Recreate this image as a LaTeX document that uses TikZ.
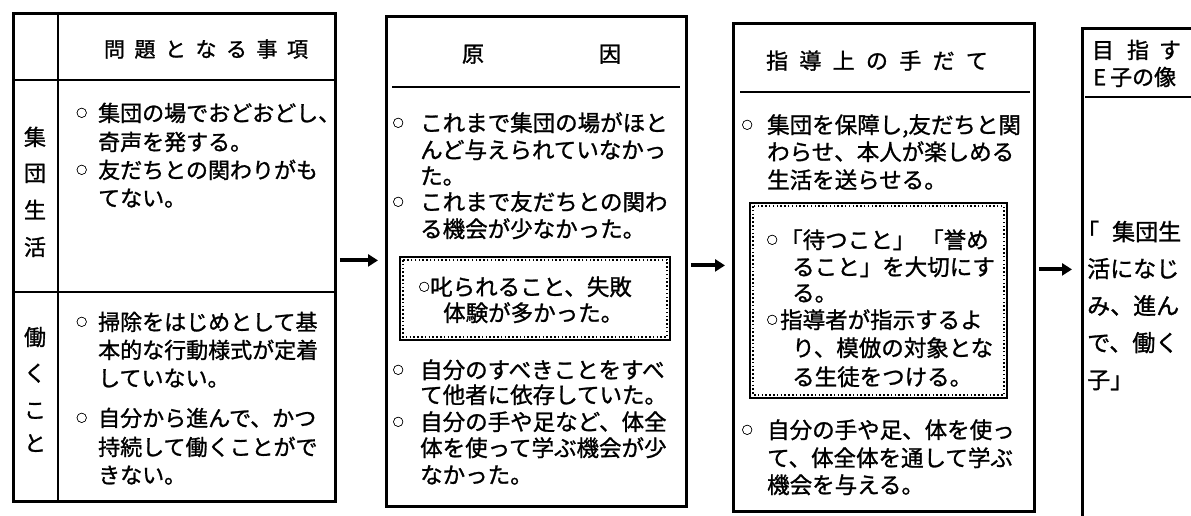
\documentclass[tikz,border=0pt]{standalone}
\usepackage{fontspec}
\setmainfont{Noto Sans CJK JP}[FakeBold=1.2]
\usetikzlibrary{arrows.meta}
\tikzset{
  frame/.style={draw, line width=2.8pt, inner sep=0pt, anchor=north west},
  rule/.style={line width=1.6pt},
  dotbox/.style={line width=1.5pt, dash pattern=on 1.5pt off 2.3pt},
  thinbox/.style={line width=1.1pt},
  arr/.style={line width=4pt, -{Triangle[length=10pt,width=12pt]}},
  txt/.style={inner sep=0pt, anchor=base west, font=\fontsize{22.5}{27}\selectfont},
  txtA/.style={txt, font=\fontsize{22}{27}\selectfont},
  txtB/.style={txt, font=\fontsize{23}{27}\selectfont},
  chr/.style={inner sep=0pt, anchor=base, font=\fontsize{22}{27}\selectfont},
}
\newcommand\bul[1]{\makebox[#1][l]{\raisebox{4.3pt}{\fontsize{11}{11}\selectfont ○}}}
\newcommand\tline[5][txt]{\node[#1] (#2) at (#3,{#4+8.3}) {#5};}
\begin{document}
\begin{tikzpicture}[x=1pt,y=-1pt]
\useasboundingbox (0,0) rectangle (1191,516);
\fill[white] (0,0) rectangle (1191,516);
\clip (0,0) rectangle (1191,516);

% frames
\node[frame, minimum width=322pt, minimum height=488pt] (b1) at (12,12) {};
\node[frame, minimum width=300pt, minimum height=490pt] (b2) at (385,15) {};
\node[frame, minimum width=301pt, minimum height=488pt] (b3) at (732,22) {};
\node[frame, minimum width=150pt, minimum height=500pt] (b4) at (1081,27) {};

% rules
\draw[rule] (12,80) -- (334,80);
\draw[rule] (12,292) -- (334,292);
\draw[rule] (58,12) -- (58,500);
\draw[rule] (392,87) -- (680,87);
\draw[rule] (740,92) -- (1030,92);
\draw[rule] (1085,97) -- (1191,97);

% dotted boxes
\draw[thinbox] (400,257) rectangle (670,340);
\draw[dotbox] (403,260) rectangle (667,337);
\draw[thinbox] (750,203) rectangle (1007,398);
\draw[dotbox] (753,206) rectangle (1004,395);

% arrows
\draw[arr, shorten <=3pt, shorten >=7pt] ([yshift=-3pt]b1.east) -- ([yshift=-3pt]b1.east -| b2.west);
\draw[arr, shorten <=3pt, shorten >=7pt] ([yshift=-4pt]b2.east) -- ([yshift=-4pt]b2.east -| b3.west);
\draw[arr, shorten <=3pt, shorten >=9pt] ([yshift=-2pt]b3.east) -- ([yshift=-2pt]b3.east -| b4.west);

% ---- box 1
\node[chr, font=\fontsize{21}{27}\selectfont] (h1) at (206,57) {問\hspace{9.5pt}題\hspace{9.5pt}と\hspace{9.5pt}な\hspace{9.5pt}る\hspace{9.5pt}事\hspace{9.5pt}項};
\node[chr] (s1) at (35,{137+8.3}) {集};
\node[chr] (s2) at (35,{173+8.3}) {団};
\node[chr] (s3) at (35,{210+8.3}) {生};
\node[chr] (s4) at (35,{247+8.3}) {活};
\node[chr] (s5) at (35,{337+8.3}) {働};
\node[chr] (s6) at (35,{373+8.3}) {く};
\node[chr] (s7) at (35,{410+8.3}) {こ};
\node[chr] (s8) at (35,{443+8.3}) {と};

\tline[txtA]{a1}{76}{113}{\bul{22pt}集団の場でおどおどし、}
\tline[txtA]{a2}{98}{142}{奇声を発する。}
\tline[txtA]{a3}{76}{170}{\bul{22pt}友だちとの関わりがも}
\tline[txtA]{a4}{98}{198}{てない。}
\tline[txtA]{a5}{76}{322}{\bul{22pt}掃除をはじめとして基}
\tline[txtA]{a6}{98}{350}{本的な行動様式が定着}
\tline[txtA]{a7}{98}{378}{していない。}
\tline[txtA]{a8}{76}{418}{\bul{22pt}自分から進んで、かつ}
\tline[txtA]{a9}{98}{447}{持続して働くことがで}
\tline[txtA]{a10}{98}{475}{きない。}

% ---- box 2
\node[chr] (h2a) at (473,62) {原};
\node[chr] (h2b) at (610,62) {因};
\tline{c1}{392.5}{123}{\bul{27.5pt}これまで集団の場がほと}
\tline{c2}{420}{150}{んど与えられていなかっ}
\tline{c3}{420}{176}{た。}
\tline{c4}{392.5}{202}{\bul{27.5pt}これまで友だちとの関わ}
\tline{c5}{420}{229}{る機会が少なかった。}
\tline{c6}{418.5}{287}{\bul{11.5pt}叱られること、失敗}
\tline{c7}{443}{313}{体験が多かった。}
\tline{c8}{392.5}{370}{\bul{27.5pt}自分のすべきことをすべ}
\tline{c9}{420}{395}{て他者に依存していた。}
\tline{c10}{392.5}{422}{\bul{27.5pt}自分の手や足など、体全}
\tline{c11}{420}{448}{体を使って学ぶ機会が少}
\tline{c12}{420}{475}{なかった。}

% ---- box 3
\node[chr] (h3) at (877,69) {指\hspace{11.3pt}導\hspace{11.3pt}上\hspace{11.3pt}の\hspace{11.3pt}手\hspace{11.3pt}だ\hspace{11.3pt}て};
\tline{d1}{741.5}{125}{\bul{25.5pt}集団を保障し,友だちと関}
\tline{d2}{767}{152}{わらせ、本人が楽しめる}
\tline{d3}{767}{180}{生活を送らせる。}
\tline{d4}{766.5}{240}{\bul{13.5pt}「待つこと」\hspace{6pt}「誉め}
\tline{d5}{792}{267}{ること」を大切にす}
\tline{d6}{792}{293}{る。}
\tline{d7}{766.5}{320}{\bul{13.5pt}指導者が指示するよ}
\tline{d8}{792}{348}{り、模倣の対象とな}
\tline{d9}{792}{377}{る生徒をつける。}
\tline{d10}{741.5}{430}{\bul{25.5pt}自分の手や足、体を使っ}
\tline{d11}{767}{458}{て、体全体を通して学ぶ}
\tline{d12}{767}{485}{機会を与える。}

% ---- box 4
\node[chr] (h4a) at (1103,58.3) {目};
\node[chr] (h4b) at (1138,58.3) {指};
\node[chr] (h4c) at (1170,58.3) {す};
\tline[txtA]{h4d}{1093}{77}{E\hspace{4pt}子の像}
\tline[txtB]{e1}{1076}{232}{「\hspace{13pt}集団生}
\tline[txtB]{e2}{1087}{269}{活になじ}
\tline[txtB]{e3}{1087}{306}{み、進ん}
\tline[txtB]{e4}{1087}{343}{で、働く}
\tline[txtB]{e5}{1087}{380}{子」}
\end{tikzpicture}
\end{document}
